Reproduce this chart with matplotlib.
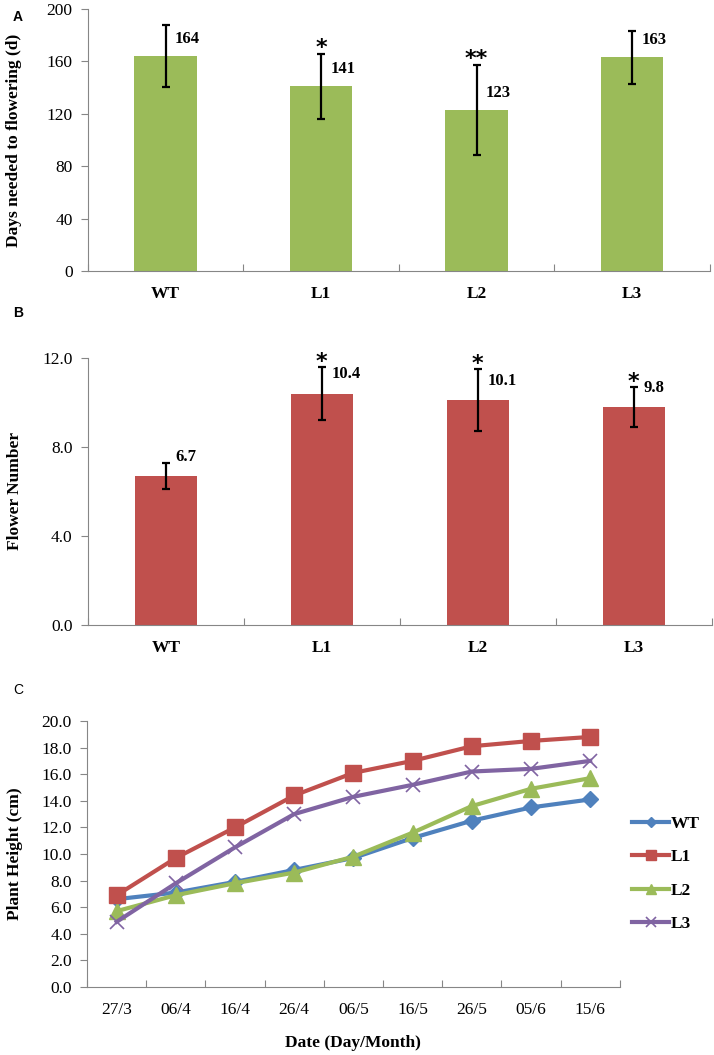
import numpy as np
import matplotlib
matplotlib.use("Agg")
import matplotlib.pyplot as plt

# datos
lineas = ["WT", "L1", "L2", "L3"]
dias = [164, 141, 123, 163]
dias_err = [23.5, 25, 34.5, 20]
dias_sig = ["", "*", "**", ""]
flores = [6.7, 10.4, 10.1, 9.8]
flores_err = [0.6, 1.2, 1.4, 0.9]
flores_sig = ["", "*", "*", "*"]
fechas = ["27/3", "06/4", "16/4", "26/4", "06/5", "16/5", "26/5", "05/6", "15/6"]
altura_WT = [6.6, 7.1, 7.9, 8.8, 9.7, 11.2, 12.5, 13.5, 14.1]
altura_L1 = [6.9, 9.7, 12.0, 14.4, 16.1, 17.0, 18.1, 18.5, 18.8]
altura_L2 = [5.7, 6.9, 7.8, 8.6, 9.8, 11.6, 13.6, 14.9, 15.7]
altura_L3 = [4.9, 7.8, 10.5, 13.0, 14.3, 15.2, 16.2, 16.4, 17.0]

plt.rcParams['font.family'] = ['Liberation Serif', 'DejaVu Serif']
eje_color = "#868686"

def estiloEje(ax):
    for s in ["top", "right"]:
        ax.spines[s].set_visible(False)
    for s in ["left", "bottom"]:
        ax.spines[s].set_color(eje_color)
    ax.tick_params(axis="y", direction="out", length=5, color=eje_color, labelsize=12.5, pad=6)

def barras(ax, valores, errores, sig, color, ymax, paso, fmt, dlab, dstar):
    x = np.arange(len(lineas))
    ax.bar(x, valores, width=0.4, color=color, zorder=2)
    ax.errorbar(x, valores, yerr=errores, fmt="none", ecolor="black", elinewidth=1.6,
                capsize=3, capthick=1.6, zorder=3)
    for i in range(len(x)):
        ax.text(x[i] + 0.06, valores[i] + dlab, fmt % valores[i], ha="left", va="center",
                fontsize=12, fontweight="bold")
        if sig[i]:
            ax.text(x[i], valores[i] + errores[i] + dstar, sig[i], ha="center", va="baseline",
                    fontsize=16, fontweight="bold", family="DejaVu Sans")
    ax.set_xlim(-0.5, 3.5)
    ax.set_ylim(0, ymax)
    ax.set_yticks(np.arange(0, ymax + paso / 2, paso))
    ax.set_xticks(np.arange(-0.5, 4, 1))
    ax.set_xticklabels([])
    ax.set_xticks(x, minor=True)
    ax.set_xticklabels(lineas, minor=True, fontweight="bold", fontsize=12.5)
    ax.tick_params(axis="x", which="major", direction="in", length=5, color=eje_color)
    ax.tick_params(axis="x", which="minor", length=0, pad=11)
    estiloEje(ax)

fig = plt.figure(figsize=(7.14, 10.55), dpi=100)

ax1 = fig.add_axes([0.123, 0.7431, 0.871, 0.2484])
barras(ax1, dias, dias_err, dias_sig, "#9BBB59", 200, 40, "%d", 13, 0)
ax1.set_ylabel("Days needed to flowering (d)", fontweight="bold", fontsize=12.5)
ax1.yaxis.set_label_coords(-0.106, 0.5)

ax2 = fig.add_axes([0.123, 0.4076, 0.874, 0.2531])
barras(ax2, flores, flores_err, flores_sig, "#C0504D", 12.0, 4.0, "%.1f", 0.86, -0.05)
ax2.yaxis.set_major_formatter(matplotlib.ticker.FormatStrFormatter("%.1f"))
ax2.set_ylabel("Flower Number", fontweight="bold", fontsize=12.5)
ax2.yaxis.set_label_coords(-0.104, 0.5)

ax3 = fig.add_axes([0.122, 0.0645, 0.746, 0.2521])
xc = np.arange(len(fechas))
ax3.plot(xc, altura_WT, color="#4F81BD", lw=3, marker="D", ms=8, label="WT", zorder=3)
ax3.plot(xc, altura_L1, color="#C0504D", lw=3, marker="s", ms=11, label="L1", zorder=4)
ax3.plot(xc, altura_L2, color="#9BBB59", lw=3, marker="^", ms=11, label="L2", zorder=3)
ax3.plot(xc, altura_L3, color="#8064A2", lw=3, marker="x", ms=10, mew=1.2, label="L3", zorder=3)
ax3.set_xlim(-0.5, len(fechas) - 0.5)
ax3.set_ylim(0, 20)
ax3.set_yticks(np.arange(0, 20.1, 2))
ax3.yaxis.set_major_formatter(matplotlib.ticker.FormatStrFormatter("%.1f"))
ax3.set_xticks(np.arange(-0.5, len(fechas), 1))
ax3.set_xticklabels([])
ax3.set_xticks(xc, minor=True)
ax3.set_xticklabels(fechas, minor=True, fontsize=12.5)
ax3.tick_params(axis="x", which="major", direction="in", length=5, color=eje_color)
ax3.tick_params(axis="x", which="minor", length=0, pad=11)
estiloEje(ax3)
ax3.set_ylabel("Plant Height (cm)", fontweight="bold", fontsize=12.5)
ax3.yaxis.set_label_coords(-0.12, 0.5)
ax3.set_xlabel("Date (Day/Month)", fontweight="bold", fontsize=12.5)
ax3.xaxis.set_label_coords(0.5, -0.18)
ax3.legend(loc="center left", bbox_to_anchor=(1.0, 0.425), frameon=False,
           prop={"weight": "bold", "size": 12.5}, handlelength=2.15, handletextpad=0.1,
           labelspacing=1.0, borderaxespad=0.3, markerscale=0.7)

fig.text(0.018, 0.984, "A", fontsize=10, fontweight="bold", family="Liberation Sans", va="center")
fig.text(0.018, 0.703, "B", fontsize=10, fontweight="bold", family="Liberation Sans", va="center")
fig.text(0.018, 0.346, "C", fontsize=10, family="Liberation Sans", va="center")

fig.savefig("out.png", dpi=100)
